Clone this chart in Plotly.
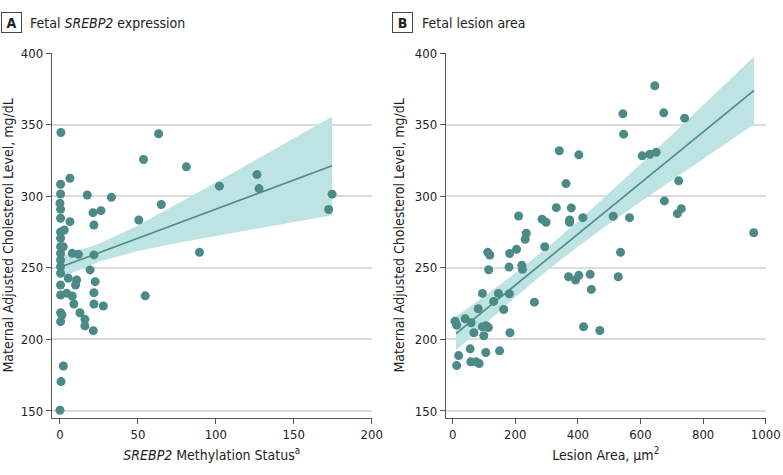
import plotly.graph_objects as go

# ---------- Panel A: SREBP2 methylation vs maternal cholesterol ----------
a_x = [0.6, 63.3, 53.6, 81.1, 6.4, 0.4, 0.4, 17.5, 33.0, 0.0, 0.4, 21.2, 26.3, 65.0,
       0.4, 6.4, 50.6, 21.8, 0.4, 2.8, 0.4, 0.4, 2.1, 0.4, 7.9, 11.8, 21.8, 89.5,
       0.4, 0.4, 0.4, 19.3, 5.3, 10.7, 22.6, 0.4, 10.0, 0.4, 4.3, 7.9, 21.8, 54.7,
       8.9, 21.8, 27.8, 0.4, 1.3, 12.8, 0.4, 16.0, 16.0, 21.4, 2.2, 0.7, 0.0,
       102.3, 126.4, 127.7, 174.6, 172.4]
a_y = [344.5, 343.6, 325.6, 320.5, 312.5, 308.3, 301.5, 300.8, 299.2, 295.0, 290.8, 288.5, 289.9, 294.2,
       284.6, 282.2, 283.4, 279.9, 275.0, 276.4, 270.6, 264.7, 264.7, 260.1, 260.1, 259.4, 259.0, 260.8,
       255.4, 250.8, 246.2, 248.5, 242.7, 241.5, 240.3, 238.0, 238.0, 231.0, 232.2, 230.3, 232.6, 230.4,
       224.7, 224.7, 223.3, 218.6, 217.0, 218.6, 212.4, 214.0, 209.4, 206.1, 181.4, 170.5, 150.5,
       307.0, 315.1, 305.3, 301.4, 290.7]

# fitted line and 95% CI band
a_fit_x = [0, 25, 50, 75, 100, 125, 150, 174.6]
a_fit_y = [250.3, 260.5, 270.6, 280.8, 290.9, 301.1, 311.2, 321.2]
a_ci_hi = [257.8, 266.7, 279.6, 294.3, 309.5, 324.9, 340.4, 355.7]
a_ci_lo = [242.8, 254.3, 261.7, 267.3, 272.3, 277.3, 282.0, 286.7]

# ---------- Panel B: lesion area vs maternal cholesterol ----------
b_x = [340.7, 403, 362, 331, 379, 210.6, 416, 285.7, 298.4, 373.5, 373.5, 235, 231.7, 294,
       204, 182, 112, 118.5, 221, 223, 180, 115, 370, 392.6, 403, 439, 443, 95, 146, 181,
       131, 261, 81.5, 163, 7.4, 40, 59, 12.7, 95, 114, 107, 99.5, 418, 470, 67.7, 183,
       56, 150, 105.8, 19, 58, 75, 84.7, 12.7,
       592.6, 822.8, 645.6, 543.8, 674.3, 741, 546, 605.3, 629.7, 650, 722, 513, 565,
       676.4, 717.8, 730.5, 961.8, 536.3, 528.9]
b_y = [331.7, 328.9, 308.8, 292, 291.8, 286.2, 285, 283.9, 281.8, 283.4, 281.8, 274.1, 269.9, 264.7,
       262.9, 260, 260.8, 258.9, 251.7, 248.9, 250.5, 248.6, 243.7, 241.4, 244.7, 245.4, 234.9, 232.1, 232.1, 231.9,
       226.5, 226, 221.4, 220.9, 212.7, 214.4, 211.6, 210, 208.8, 208.3, 209.5, 202.5, 208.8, 206.2, 204.6, 204.6,
       193.4, 192, 190.8, 188.7, 184.3, 184.3, 183.1, 181.7,
       402.6, 400.7, 377.1, 357.5, 358.2, 354.5, 343.3, 328.2, 329.3, 330.7, 310.7, 286, 285,
       296.7, 287.8, 291.3, 274.5, 260.8, 243.7]

b_fit_x = [10.6, 100, 200, 300, 400, 500, 600, 700, 800, 963]
b_fit_y = [204.1, 220.0, 237.9, 255.7, 273.5, 291.4, 309.2, 327.0, 344.8, 373.9]
b_ci_hi = [216.0, 229.9, 246.3, 263.7, 282.3, 302.1, 322.3, 342.8, 363.5, 397.5]
b_ci_lo = [192.2, 210.1, 229.5, 247.7, 264.7, 280.7, 296.1, 311.2, 326.1, 350.3]

y_ticks = [150, 200, 250, 300, 350, 400]
a_x_ticks = [0, 50, 100, 150, 200]
b_x_ticks = [0, 200, 400, 600, 800, 1000]

DOT = "#4b8a87"
LINE = "#4b8a87"
BAND = "#bde3e2"
AXIS = "#555555"
GRID = "#dcdcdc"
FONT = "Liberation Sans Narrow, DejaVu Sans Condensed, Roboto, sans-serif"

fig = go.Figure()


def add_panel(xs, ys, fx, fy, hi, lo, xa, ya):
    fig.add_trace(go.Scatter(x=fx + fx[::-1], y=hi + lo[::-1], fill="toself",
                             fillcolor=BAND, line=dict(width=0), mode="lines",
                             hoverinfo="skip", showlegend=False, xaxis=xa, yaxis=ya))
    fig.add_trace(go.Scatter(x=fx, y=fy, mode="lines", line=dict(color=LINE, width=1.6),
                             showlegend=False, xaxis=xa, yaxis=ya))
    fig.add_trace(go.Scatter(x=xs, y=ys, mode="markers", cliponaxis=False,
                             marker=dict(color=DOT, size=9, line=dict(width=0)),
                             showlegend=False, xaxis=xa, yaxis=ya))


add_panel(a_x, a_y, a_fit_x, a_fit_y, a_ci_hi, a_ci_lo, "x", "y")
add_panel(b_x, b_y, b_fit_x, b_fit_y, b_ci_hi, b_ci_lo, "x2", "y2")

W, H = 783, 475

axis_common = dict(showline=True, linecolor=AXIS, linewidth=1, ticks="outside",
                   ticklen=5, tickcolor=AXIS, tickfont=dict(family=FONT, size=13, color="#222"),
                   zeroline=False, automargin=False)

YTITLE = "Maternal Adjusted Cholesterol Level, mg/dL"
fig.update_layout(
    width=W, height=H,
    margin=dict(l=0, r=0, t=0, b=0),
    paper_bgcolor="white", plot_bgcolor="white",
    font=dict(family=FONT, color="#222"),
    xaxis=dict(domain=[51.7 / W, 371.7 / W], range=[-5.3, 200], tickvals=a_x_ticks,
               showgrid=False, anchor="y",
               title=dict(text="<i>SREBP2</i> Methylation Status<sup>a</sup>",
                          font=dict(family=FONT, size=14), standoff=8),
               **axis_common),
    yaxis=dict(domain=[1 - 417.7 / H, 1 - 53 / H], range=[145.3, 400], tickvals=y_ticks,
               showgrid=True, gridcolor=GRID, gridwidth=1.5, anchor="x",
               title=dict(text=YTITLE, font=dict(family=FONT, size=14), standoff=6),
               **axis_common),
    xaxis2=dict(domain=[445.7 / W, 765.7 / W], range=[-22.3, 1000], tickvals=b_x_ticks,
                showgrid=False, anchor="y2",
                title=dict(text="Lesion Area, μm<sup>2</sup>",
                           font=dict(family=FONT, size=14), standoff=8),
                **axis_common),
    yaxis2=dict(domain=[1 - 417.7 / H, 1 - 53 / H], range=[145.3, 400], tickvals=y_ticks,
                showgrid=True, gridcolor=GRID, gridwidth=1.5, anchor="x2",
                title=dict(text=YTITLE, font=dict(family=FONT, size=14), standoff=6),
                **axis_common),
)

panel_titles = [("A", "Fetal <i>SREBP2</i> expression", 1, 28),
                ("B", "Fetal lesion area", 392, 420)]
for letter, text, bx, tx in panel_titles:
    fig.add_annotation(x=bx / W, y=1 - 23 / H, xref="paper", yref="paper",
                       xanchor="left", yanchor="middle", showarrow=False,
                       text="<b>" + letter + "</b>", font=dict(family=FONT, size=14, color="#222"),
                       width=15, height=15, align="center",
                       bordercolor="#444", borderwidth=1, borderpad=2)
    fig.add_annotation(x=tx / W, y=1 - 23 / H, xref="paper", yref="paper",
                       xanchor="left", yanchor="middle", showarrow=False,
                       text=text, font=dict(family=FONT, size=14, color="#222"))

fig.write_html("out.html", config={"displayModeBar": False},
               post_script="document.body.style.margin='0';")
